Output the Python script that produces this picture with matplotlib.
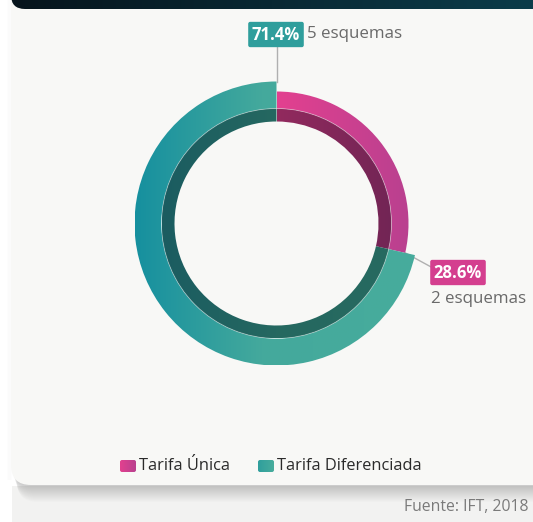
import numpy as np
import matplotlib
matplotlib.use("Agg")
import matplotlib.pyplot as plt
from matplotlib.patches import Wedge, FancyBboxPatch, Rectangle, Circle
from matplotlib.colors import LinearSegmentedColormap

# ---- data ----
categories = ["Tarifa Única", "Tarifa Diferenciada"]
esquemas = [2, 5]
count_labels = ["2 esquemas", "5 esquemas"]
source_text = "Fuente: IFT, 2018"

plt.rcParams['font.family'] = ['Open Sans', 'DejaVu Sans']

W, H = 533, 522
fig = plt.figure(figsize=(W / 100, H / 100), dpi=100)
fig.patch.set_facecolor("white")
ax = fig.add_axes([0, 0, 1, 1])
ax.set_xlim(0, W)
ax.set_ylim(H, 0)
ax.axis("off")


def grad_fill(patch, stops, x0, x1, y0, y1, z):
    cmap = LinearSegmentedColormap.from_list("g", stops)
    arr = np.linspace(0, 1, 256).reshape(1, -1)
    im = ax.imshow(np.vstack([arr, arr]), cmap=cmap, extent=(x0, x1, y1, y0),
                   aspect="auto", interpolation="bilinear", zorder=z)
    patch.set_facecolor("none")
    patch.set_edgecolor("none")
    ax.add_patch(patch)
    im.set_clip_path(patch)
    return im


# ---- background / card ----
ax.add_patch(Rectangle((12, 486), W, 40, facecolor="#f2f2f1", edgecolor="none", zorder=0))
# faint left shadow
for i in range(4):
    ax.add_patch(Rectangle((11 - 1 - i, -40), 2, 520, facecolor="#000000",
                           edgecolor="none", alpha=0.006, zorder=0.4))
# soft shadow below card
for i in range(18):
    ax.add_patch(FancyBboxPatch((12 + 0.3 * i, -40), W + 40, 525 + i,
                                boxstyle="round,pad=0,rounding_size=20",
                                facecolor="#000000", edgecolor="none", alpha=0.012,
                                zorder=0.5))
card = FancyBboxPatch((11, -40), W + 40, 525, boxstyle="round,pad=0,rounding_size=20",
                      facecolor="#f8f8f6", edgecolor="none", zorder=1)
ax.add_patch(card)
header = FancyBboxPatch((11, -40), W + 40, 49, boxstyle="round,pad=0,rounding_size=14")
grad_fill(header, ["#06141c", "#0c3c4a"], 11, W, -40, 9, 2)

# ---- donut ----
cx, cy = 276.5, 223.5
r_in, r_mid = 102, 115
r_out = [132, 142]
light = [[(0, "#e3418f"), (1, "#b9408f")],
         [(0, "#16909f"), (0.45, "#44a99c"), (1, "#47ac9c")]]
dark = [[(0, "#922a5e"), (1, "#722555")],
        [(0, "#1b5c61"), (0.5, "#256860"), (1, "#276a60")]]

total = sum(esquemas)
fracs = [v / total for v in esquemas]
start = 90.0  # visual angle, clockwise
vis_bounds = []
for i, f in enumerate(fracs):
    end = start - 360 * f
    vis_bounds.append((start, end))
    t1, t2 = -start, -end  # y axis inverted
    ro = r_out[i]
    w1 = Wedge((cx, cy), ro, t1, t2, width=ro - r_mid)
    ext = w1.get_path().get_extents()
    grad_fill(w1, light[i], ext.x0, ext.x1, ext.y0, ext.y1, 3)
    w2 = Wedge((cx, cy), r_mid, t1, t2, width=r_mid - r_in)
    ext2 = w2.get_path().get_extents()
    grad_fill(w2, dark[i], ext2.x0, ext2.x1, ext2.y0, ext2.y1, 3)
    start = end

# thin light separator between bands
ax.add_patch(Circle((cx, cy), r_mid, facecolor="none", edgecolor="white", lw=0.6,
                    alpha=0.45, zorder=4))

# ---- labels ----
pct = [f"{100 * f:.1f}%" for f in fracs]
badge_col = ["#d43f8f", "#2f9e9c"]
badge_box = dict(boxstyle="round,pad=0.22,rounding_size=0.12", edgecolor="none")

# Tarifa Diferenciada label (top)
ax.plot([cx, cx], [45, cy - r_out[1]], color="#b0b0b0", lw=1, zorder=2)
ax.text(276, 34.5, pct[1], ha="center", va="center", fontsize=12, fontweight="bold",
        color="white", zorder=6, bbox=dict(badge_box, facecolor=badge_col[1]))
ax.text(307, 34.5, count_labels[1], ha="left", va="center", fontsize=12.2,
        color="#6a6a6a", zorder=6)

# Tarifa Única label (right)
ang = np.deg2rad(vis_bounds[0][1])
px, py = cx + r_out[0] * np.cos(ang), cy - r_out[0] * np.sin(ang)
ax.plot([px, 433], [py, 268], color="#b0b0b0", lw=1, zorder=2)
ax.text(458, 272.5, pct[0], ha="center", va="center", fontsize=12, fontweight="bold",
        color="white", zorder=6, bbox=dict(badge_box, facecolor=badge_col[0]))
ax.text(431, 299, count_labels[0], ha="left", va="center", fontsize=12.2,
        color="#6a6a6a", zorder=6)

# ---- legend ----
leg_x = [120, 258]
leg_c = [[(0, "#e2418f"), (1, "#b9408f")], [(0, "#2f9e9c"), (1, "#48ad9c")]]
for i, name in enumerate(categories):
    sq = FancyBboxPatch((leg_x[i], 460), 16, 12, boxstyle="round,pad=0,rounding_size=2")
    grad_fill(sq, leg_c[i], leg_x[i], leg_x[i] + 16, 460, 472, 6)
    ax.text(leg_x[i] + 19, 466, name, ha="left", va="center", fontsize=11.8,
            color="#2a2a2a", zorder=6)

ax.text(528, 507, source_text, ha="right", va="center", fontsize=11.3, color="#7a7a7a",
        zorder=6)

ax.set_xlim(0, W)
ax.set_ylim(H, 0)
fig.savefig("out.png", dpi=100, facecolor=fig.get_facecolor())
